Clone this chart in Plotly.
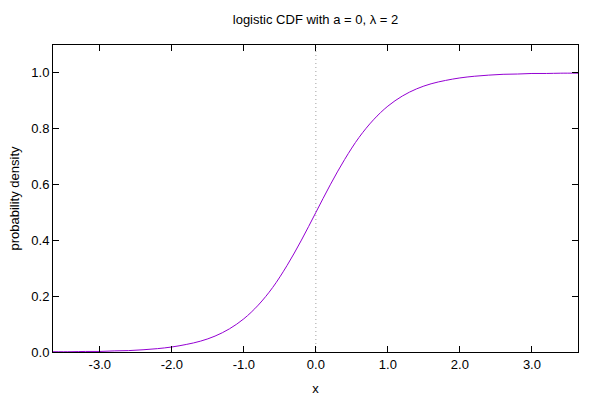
import plotly.graph_objects as go

x_vals = [-3.65, -3.4, -3.2, -3.0, -2.8, -2.6, -2.4, -2.2, -2.0, -1.8, -1.6, -1.4, -1.2, -1.0,
          -0.8, -0.6, -0.4, -0.2, 0.0, 0.2, 0.4, 0.6, 0.8, 1.0, 1.2, 1.4, 1.6, 1.8, 2.0,
          2.2, 2.4, 2.6, 2.8, 3.0, 3.2, 3.4, 3.64]
y_vals = [0.001, 0.001, 0.002, 0.002, 0.004, 0.005, 0.008, 0.012, 0.018, 0.027, 0.039, 0.057,
          0.083, 0.119, 0.168, 0.231, 0.310, 0.401, 0.500, 0.599, 0.690, 0.769, 0.832, 0.881,
          0.917, 0.943, 0.961, 0.973, 0.982, 0.988, 0.992, 0.995, 0.996, 0.998, 0.998, 0.999, 0.999]
x_tick_vals = [-3, -2, -1, 0, 1, 2, 3]
x_tick_text = ["-3.0", "-2.0", "-1.0", "0.0", "1.0", "2.0", "3.0"]
y_tick_vals = [0.0, 0.2, 0.4, 0.6, 0.8, 1.0]
y_tick_text = ["0.0", "0.2", "0.4", "0.6", "0.8", "1.0"]

font = dict(family="Liberation Sans, Arial, sans-serif", size=13, color="black")

fig = go.Figure()
fig.add_trace(go.Scatter(x=x_vals, y=y_vals, mode="lines", line=dict(color="#9400D3", width=1, shape="spline"),
                         showlegend=False, hoverinfo="skip"))
fig.add_vline(x=0, line=dict(color="#a0a0a0", width=1, dash="1px,3px"), layer="below")

axis_common = dict(showgrid=False, zeroline=False, showline=True, linecolor="black", linewidth=1,
                   mirror="ticks", ticks="inside", ticklen=6, tickcolor="black", tickwidth=1,
                   tickfont=font, automargin=False)
fig.update_xaxes(range=[-3.65, 3.64], tickvals=x_tick_vals, ticktext=x_tick_text,
                 title=dict(text="x", font=font, standoff=13), **axis_common)
fig.update_yaxes(range=[0, 1.1], tickvals=y_tick_vals, ticktext=y_tick_text,
                 title=dict(text="probability density", font=font, standoff=8), **axis_common)
fig.update_layout(
    width=600, height=400,
    margin=dict(l=53, r=22, t=45, b=48),
    paper_bgcolor="white", plot_bgcolor="white",
    font=font,
    title=dict(text="logistic CDF with a = 0, λ = 2", x=(53 + 578) / 2 / 600, xanchor="center",
               y=1 - 19 / 400, yanchor="middle", font=font),
)
fig.write_html("out.html", config={"displayModeBar": False},
               post_script="document.body.style.margin='0';")
